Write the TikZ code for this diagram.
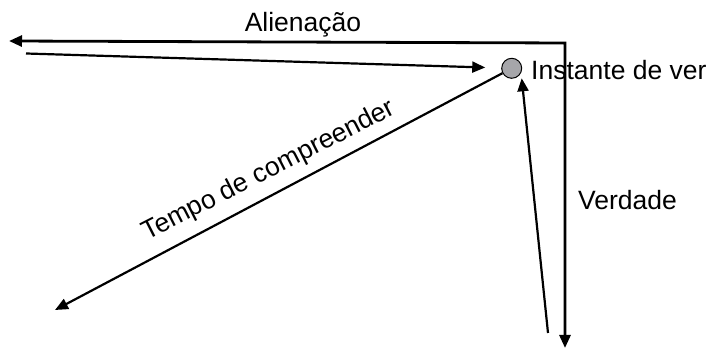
\documentclass[tikz,border=0pt]{standalone}
\usepackage{fontspec}
\setmainfont{Liberation Sans}
\usetikzlibrary{arrows.meta}
\begin{document}
\begin{tikzpicture}[x=1pt,y=1pt,
  thick line/.style={line width=2.8pt},
  thin line/.style={line width=2.2pt},
  tip/.style={-{Triangle[length=13pt,width=11pt]}},
  lbl/.style={font=\fontsize{26.5pt}{31pt}\selectfont, inner sep=0pt},
  dot/.style={circle, draw=black, line width=1pt, fill={rgb,255:red,166;green,166;blue,170}, minimum size=20pt, inner sep=0pt}]
\useasboundingbox (0,0) rectangle (710,350);
\node[dot] (c) at (511.7,281.7) {};
\coordinate (corner) at (565,307);
\coordinate (lt) at (9,309);
\coordinate (bt) at (565,2);
\coordinate (s1) at (26,296.5);
\coordinate (dl) at (55,40);
\coordinate (s2) at (548,17);
\coordinate (uptip) at (521.7,271.7);
\draw[thick line, {Triangle[length=13pt,width=11pt]}-{Triangle[length=13pt,width=11pt]}] (lt) -- (corner) -- (bt);
\draw[thin line, tip, shorten >=16pt] (s1) -- (c);
\draw[thin line, tip] (c) -- (dl);
\draw[thin line, tip] (s2) -- (uptip);
\node[lbl, anchor=base] (alien) at (303,318.3) {Alienação};
\node[lbl, anchor=base west] (inst) at (531,270) {Instante de ver};
\node[lbl, anchor=base west] (verd) at (578,140.7) {Verdade};
\node[lbl, anchor=base, rotate=27] (tempo) at (272,173) {Tempo de compreender};
\end{tikzpicture}
\end{document}
